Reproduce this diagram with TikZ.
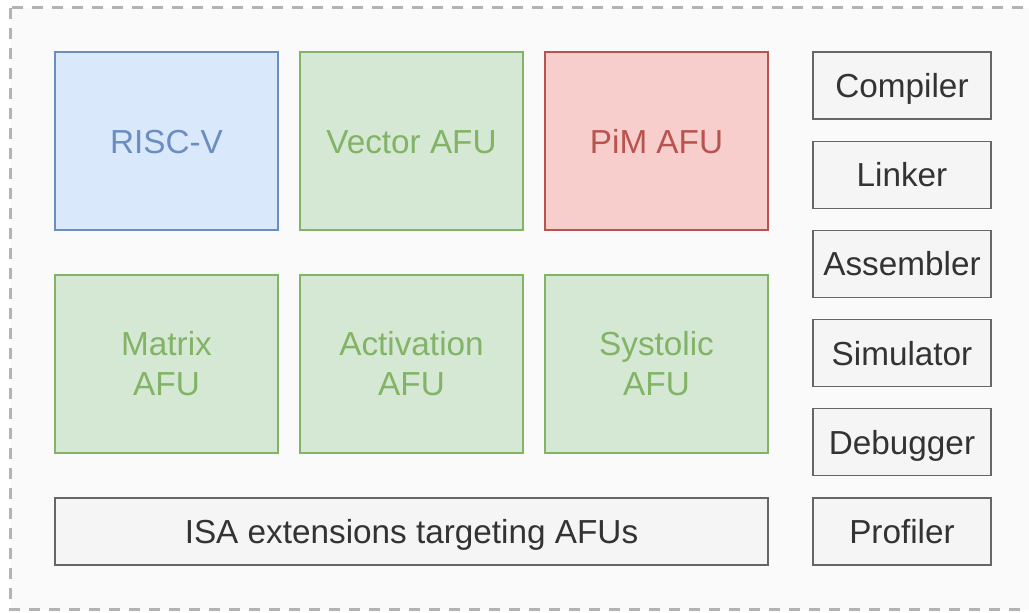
\documentclass[tikz,border=0pt]{standalone}
\usepackage{fontspec}
\setmainfont{Liberation Sans}
\definecolor{riscvfill}{HTML}{DAE8FC}
\definecolor{riscvline}{HTML}{6C8EBF}
\definecolor{afufill}{HTML}{D5E8D4}
\definecolor{afuline}{HTML}{82B366}
\definecolor{pimfill}{HTML}{F8CECC}
\definecolor{pimline}{HTML}{B85450}
\definecolor{toolfill}{HTML}{F5F5F5}
\definecolor{toolline}{HTML}{666666}
\definecolor{tooltext}{HTML}{333333}
\definecolor{frameline}{HTML}{B3B3B3}
\definecolor{framefill}{HTML}{FAFAFA}
\tikzset{
  unit/.style={draw, line width=1.1pt, minimum width=223pt, minimum height=178pt,
    inner sep=0pt, align=center, font=\fontsize{33.3}{40}\selectfont},
  oneline/.style={text height=24pt, text depth=0pt},
  riscvbox/.style={unit, oneline, fill=riscvfill, draw=riscvline, text=riscvline},
  afubox/.style={unit, fill=afufill, draw=afuline, text=afuline},
  pimbox/.style={unit, oneline, fill=pimfill, draw=pimline, text=pimline},
  toolbox/.style={unit, oneline, minimum width=178pt, minimum height=67pt,
    fill=toolfill, draw=toolline, text=tooltext},
}
\begin{document}
\begin{tikzpicture}[x=1pt,y=-1pt]
  \useasboundingbox (0,0) rectangle (1029,613);
  \draw[frameline, fill=framefill, line width=3pt, dash pattern=on 11pt off 9pt]
    (10.8,7.5) rectangle (1045,609.5);
  % hardware units
  \node[riscvbox] (riscv) at (166.5,141) {RISC-V};
  \node[afubox, oneline] (vecafu) at (411.5,141) {Vector AFU};
  \node[pimbox] (pimafu) at (656.5,141) {PiM AFU};
  \node[afubox] (matafu) at (166.5,364) {Matrix\\AFU};
  \node[afubox] (actafu) at (411.5,364) {Activation\\AFU};
  \node[afubox] (sysafu) at (656.5,364) {Systolic\\AFU};
  \node[toolbox, minimum width=713pt] (isa) at (411.5,531.5) {ISA extensions targeting AFUs};
  % software tools
  \foreach[count=\i,evaluate={85.5+89.2*(\i-1)} as \y] \t in {Compiler,Linker,Assembler,Simulator,Debugger,Profiler} {
    \node[toolbox] (tool\i) at (902,\y) {\t};
  }
\end{tikzpicture}
\end{document}
